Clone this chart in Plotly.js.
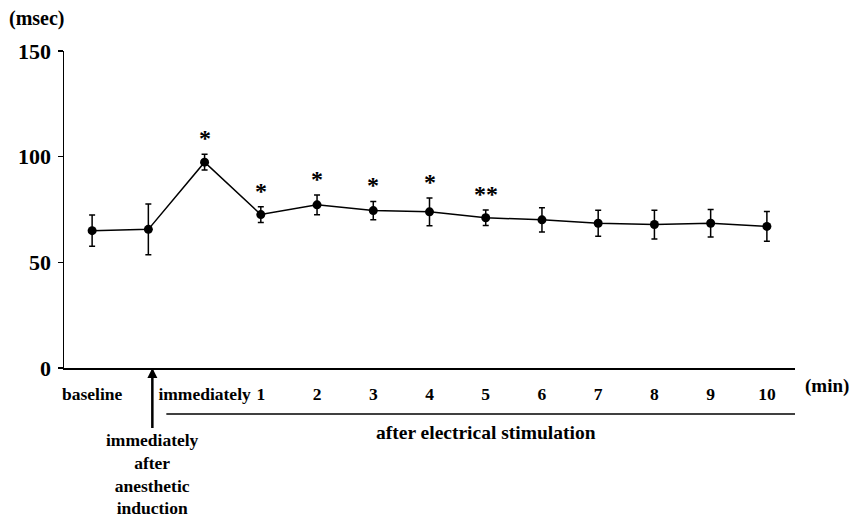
<!DOCTYPE html>
<html>
<head>
<meta charset="utf-8">
<script src="https://cdn.plot.ly/plotly-3.0.1.min.js"></script>
<style>html,body{margin:0;padding:0;background:#fff;}#chart{width:851px;height:523px;}</style>
</head>
<body>
<div id="chart"></div>
<script>
// Data
const positions = [0, 1, 2, 3, 4, 5, 6, 7, 8, 9, 10, 11, 12];
const tickLabels = ['baseline', '', 'immediately', '1', '2', '3', '4', '5', '6', '7', '8', '9', '10'];
const meanMsec = [65, 65.6, 97.4, 72.6, 77.2, 74.5, 73.9, 71.1, 70.1, 68.5, 67.9, 68.5, 67];
const sdMsec = [7.4, 12, 3.7, 3.7, 4.7, 4.3, 6.6, 3.7, 5.7, 6.2, 6.8, 6.5, 7];
const significance = ['', '', '*', '*', '*', '*', '*', '**', '', '', '', '', ''];
const yTicks = [0, 50, 100, 150];

const FONT = 'Liberation Serif, Times New Roman, serif';

const trace = {
  x: positions,
  y: meanMsec,
  type: 'scatter',
  mode: 'lines+markers',
  line: {color: '#000', width: 1.5},
  marker: {color: '#000', size: 9},
  error_y: {type: 'data', array: sdMsec, visible: true, color: '#000', thickness: 1.5, width: 3},
  hoverinfo: 'skip',
  showlegend: false
};

const annotations = [];
positions.forEach((p, i) => {
  if (significance[i]) {
    annotations.push({
      x: p, y: meanMsec[i] + sdMsec[i], xref: 'x', yref: 'y',
      text: significance[i], showarrow: false, yanchor: 'bottom', yshift: 1,
      font: {family: FONT, size: 24, color: '#000', weight: 'bold'}
    });
  }
});
annotations.push({
  x: -0.037, y: 1.104, xref: 'paper', yref: 'paper', text: '(msec)', showarrow: false,
  xanchor: 'center', yanchor: 'middle', font: {family: FONT, size: 20, color: '#000', weight: 'bold'}
});
annotations.push({
  x: 1.044, y: -0.058, xref: 'paper', yref: 'paper', text: '(min)', showarrow: false,
  xanchor: 'center', yanchor: 'middle', font: {family: FONT, size: 19, color: '#000', weight: 'bold'}
});
annotations.push({
  x: 1, y: 0, xref: 'x', yref: 'y', xshift: 4,
  text: 'immediately<br>after<br>anesthetic<br>induction',
  showarrow: true, ax: 0, ay: 60, axref: 'pixel', ayref: 'pixel',
  arrowhead: 2, arrowsize: 0.8, arrowwidth: 2.5, arrowcolor: '#000',
  yanchor: 'top', xanchor: 'center', align: 'center',
  font: {family: FONT, size: 17.5, color: '#000', weight: 'bold'}
});
annotations.push({
  x: 7, y: -0.205, xref: 'x', yref: 'paper', text: 'after electrical stimulation', showarrow: false,
  xanchor: 'center', yanchor: 'middle', font: {family: FONT, size: 19.5, color: '#000', weight: 'bold'}
});

const layout = {
  width: 851, height: 523,
  margin: {l: 64, r: 56, t: 51, b: 155},
  paper_bgcolor: '#fff', plot_bgcolor: '#fff',
  font: {family: FONT, color: '#000'},
  xaxis: {
    range: [-0.5, 12.5], showgrid: false, zeroline: false,
    showline: true, linecolor: '#000', linewidth: 1.5,
    ticks: '', tickvals: positions, ticktext: tickLabels, ticklabelstandoff: 9,
    tickfont: {family: FONT, size: 17.5, color: '#000', weight: 'bold'},
    fixedrange: true
  },
  yaxis: {
    range: [0, 150], showgrid: false, zeroline: false,
    showline: true, linecolor: '#000', linewidth: 1.5,
    ticks: 'outside', ticklen: 5, tickwidth: 1.5, tickcolor: '#000',
    tickvals: yTicks, ticktext: yTicks.map(String), ticklabelstandoff: 2,
    tickfont: {family: FONT, size: 22, color: '#000', weight: 'bold'},
    fixedrange: true
  },
  shapes: [{
    type: 'line', xref: 'x', yref: 'paper', x0: 1.32, x1: 12.5, y0: -0.145, y1: -0.145,
    line: {color: '#000', width: 1.5}
  }],
  annotations: annotations
};

Plotly.newPlot('chart', [trace], layout, {displayModeBar: false, staticPlot: true});
</script>
</body>
</html>
